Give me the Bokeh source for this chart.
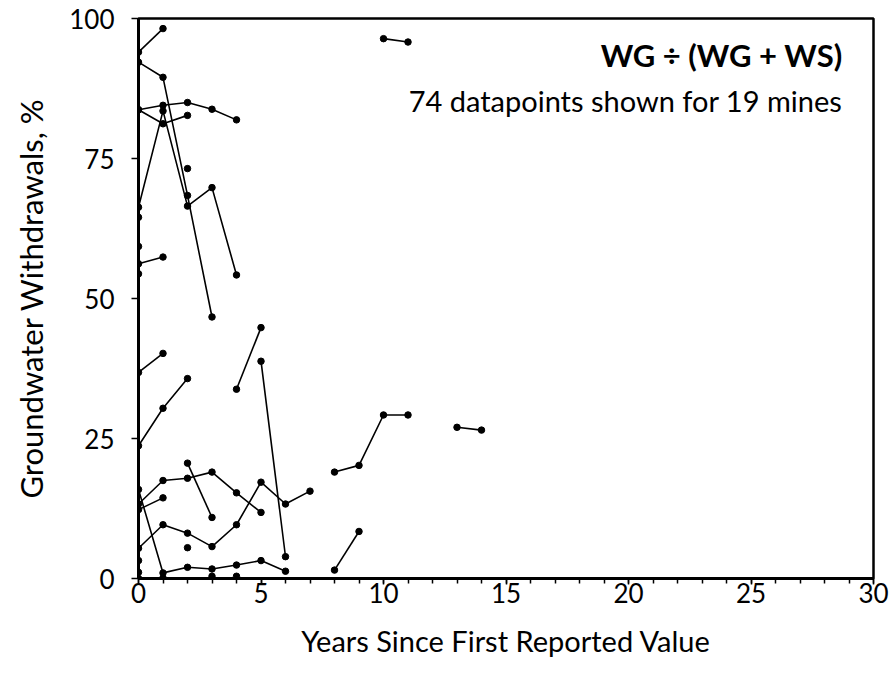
from bokeh.plotting import figure
from bokeh.models import ColumnDataSource, Label, Range1d, SingleIntervalTicker, FixedTicker
from bokeh.embed import file_html
from bokeh.resources import INLINE

# Connected yearly records per mine (years since first reported value, % groundwater)
mine_years = [
    [0, 1],
    [10, 11],
    [0, 1, 2, 3, 4],
    [0, 1, 2],
    [0, 1, 2, 3],
    [0, 1, 2, 3, 4],
    [0, 1],
    [0, 1],
    [0, 1, 2],
    [4, 5],
    [5, 6],
    [0, 1, 2, 3, 4, 5, 6],
    [0, 1, 2, 3, 4, 5],
    [0, 1],
    [2, 3],
    [0, 1, 2, 3, 4, 5, 6, 7],
    [8, 9, 10, 11],
    [8, 9],
    [13, 14],
]
mine_pct = [
    [94.0, 98.2],
    [96.4, 95.8],
    [83.7, 84.5, 85.0, 83.8, 81.9],
    [83.7, 81.2, 82.7],
    [92.2, 89.5, 68.4, 46.7],
    [66.3, 83.5, 66.5, 69.8, 54.2],
    [56.2, 57.4],
    [36.8, 40.2],
    [23.7, 30.4, 35.7],
    [33.8, 44.8],
    [38.8, 3.9],
    [15.9, 1.0, 2.0, 1.7, 2.4, 3.2, 1.3],
    [13.3, 17.5, 17.9, 19.0, 15.3, 11.8],
    [12.3, 14.4],
    [20.6, 10.9],
    [5.4, 9.6, 8.1, 5.7, 9.6, 17.2, 13.3, 15.6],
    [19.0, 20.2, 29.2, 29.2],
    [1.5, 8.4],
    [27.0, 26.5],
]
# Stand-alone datapoints (no adjacent year reported)
single_years = [2, 0, 0, 0, 2, 0, 0, 0, 1, 3, 4]
single_pct = [73.2, 64.5, 59.3, 54.4, 5.5, 3.2, 1.1, 0.0, 0.1, 0.4, 0.4]

y_major_ticks = [0, 25, 50, 75, 100]

FONT = "Lato"

p = figure(
    frame_width=735, frame_height=560,
    x_range=Range1d(0, 30), y_range=Range1d(0, 100),
    output_backend="svg", toolbar_location=None,
    min_border_left=138, min_border_right=23, min_border_top=18, min_border_bottom=115,
    background_fill_color="white", border_fill_color="white",
)
p.grid.visible = False
p.outline_line_color = "black"
p.outline_line_width = 2.5

p.xaxis.ticker = SingleIntervalTicker(interval=5, num_minor_ticks=5)
p.yaxis.ticker = FixedTicker(ticks=y_major_ticks)

for ax in (p.xaxis[0], p.yaxis[0]):
    ax.axis_line_width = 3
    ax.axis_line_color = "black"
    ax.major_tick_line_color = "black"
    ax.major_tick_line_width = 1.5
    ax.major_tick_in = 0
    ax.minor_tick_in = 0
    ax.major_label_text_font = FONT
    ax.major_label_text_font_size = "26px"
    ax.major_label_text_color = "black"
    ax.axis_label_text_font = FONT
    ax.axis_label_text_font_style = "normal"
    ax.axis_label_text_color = "black"

p.xaxis.major_tick_out = 6
p.xaxis.minor_tick_out = 5
p.xaxis.minor_tick_line_color = "black"
p.xaxis.minor_tick_line_width = 1.5
p.xaxis.major_label_standoff = -2
p.xaxis.axis_label = "Years Since First Reported Value"
p.xaxis.axis_label_text_font_size = "29px"
p.xaxis.axis_label_standoff = 17

p.yaxis.major_tick_out = 7
p.yaxis.minor_tick_out = 0
p.yaxis.major_label_standoff = 17
p.yaxis.axis_label = "Groundwater Withdrawals, %"
p.yaxis.axis_label_text_font_size = "31px"
p.yaxis.axis_label_standoff = 16

lines = ColumnDataSource(dict(xs=mine_years, ys=mine_pct))
p.multi_line("xs", "ys", source=lines, line_color="black", line_width=1.6)

all_x = [x for xs in mine_years for x in xs] + single_years
all_y = [y for ys in mine_pct for y in ys] + single_pct
pts = ColumnDataSource(dict(x=all_x, y=all_y))
p.scatter("x", "y", source=pts, size=6.5, fill_color="black", line_color="black")

p.add_layout(Label(x=28.73, y=93.4, text="WG ÷ (WG + WS)", text_align="right",
                   text_baseline="middle", text_font=FONT, text_font_size="31px",
                   text_font_style="bold", text_color="black"))
p.add_layout(Label(x=28.73, y=85.4, text="74 datapoints shown for 19 mines", text_align="right",
                   text_baseline="middle", text_font=FONT, text_font_size="29px",
                   text_color="black"))

open("out.html", "w").write(file_html(p, INLINE))
